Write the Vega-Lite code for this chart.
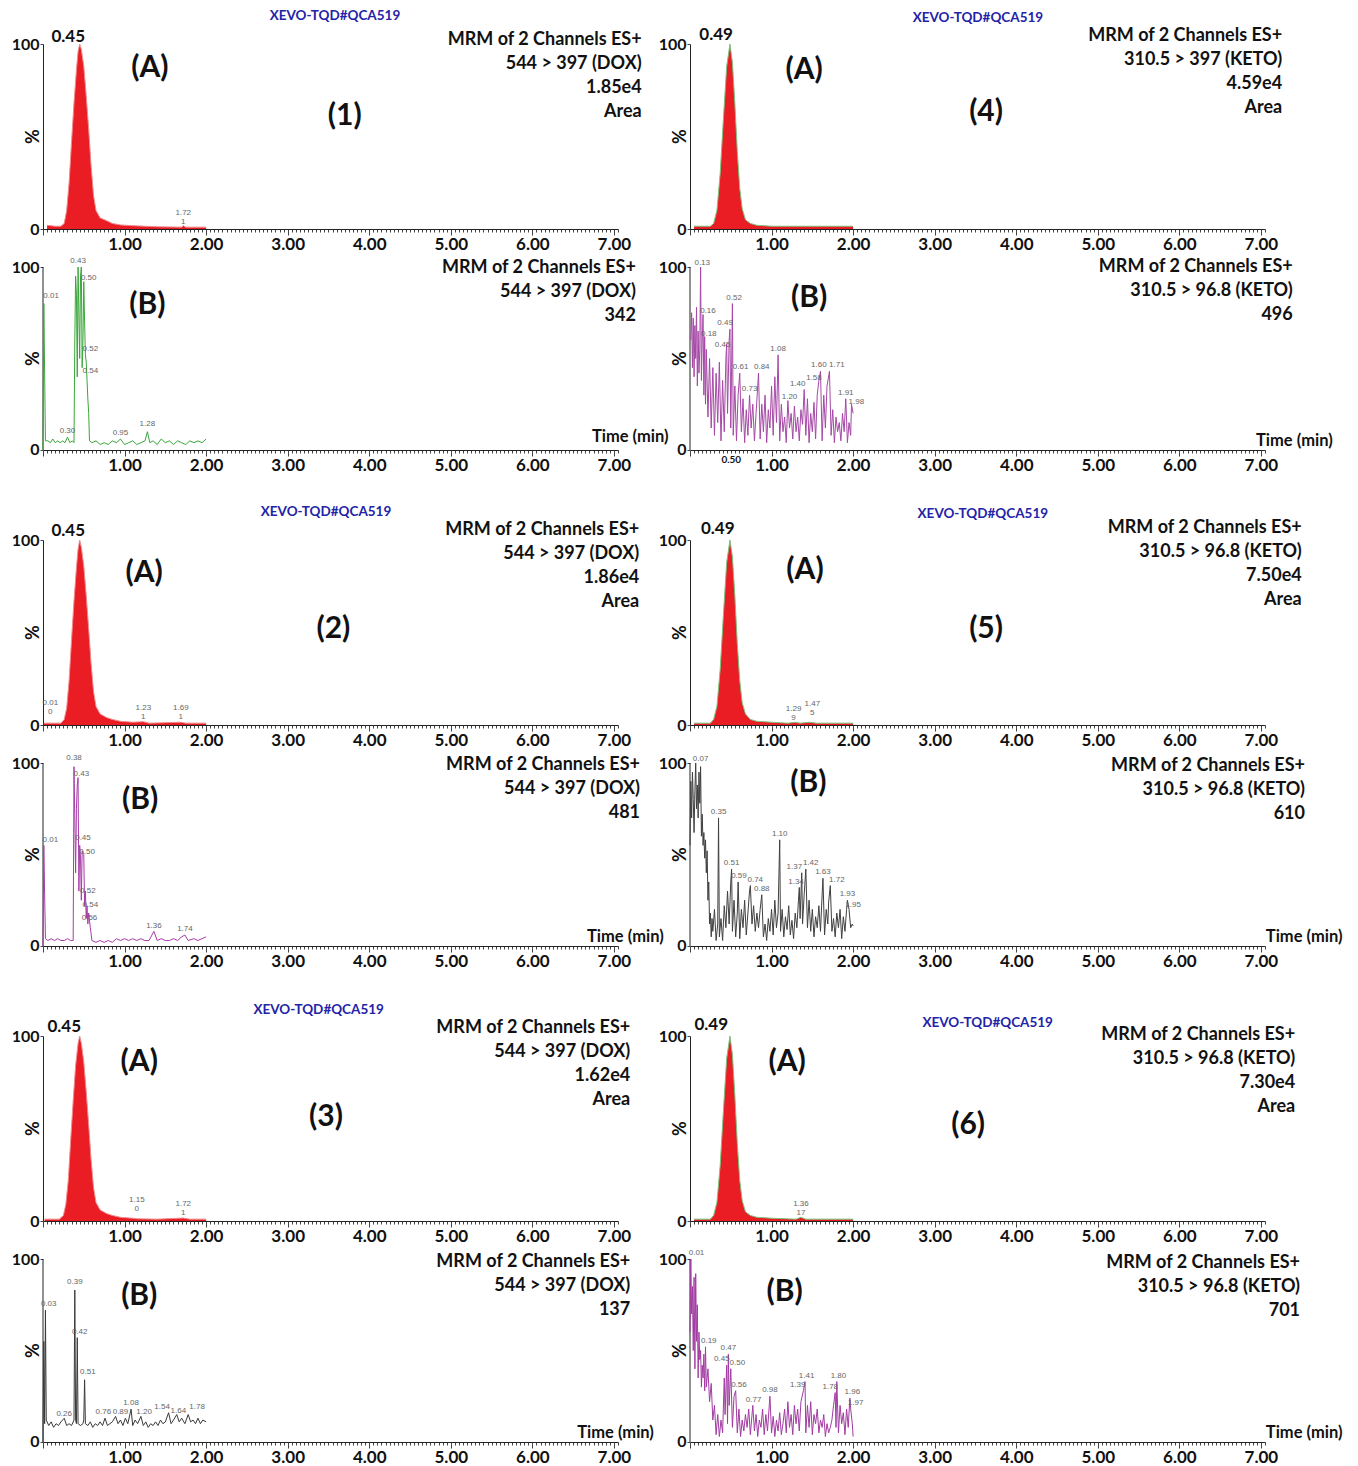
{
"$schema":"https://vega.github.io/schema/vega-lite/v6.json",
"background":"white",
"padding":{"left":11,"top":9,"right":5,"bottom":5},
"bounds":"flush",
"columns":2,
"spacing":{"row":38,"column":72},
"resolve":{"scale":{"x":"independent","y":"independent"},"axis":{"x":"independent","y":"independent"}},
"config":{
 "view":{"stroke":null},
 "font":"Lato",
 "axis":{"grid":false,"domainColor":"#222","tickColor":"#444","labelColor":"#111","labelFont":"Lato","labelFontWeight":"bold","titleFont":"Lato","titleFontWeight":"bold","titleColor":"#111"},
 "axisX":{"labelFontSize":17,"labelPadding":1},
 "axisY":{"labelFontSize":16,"labelPadding":1,"tickSize":3,"titleFontSize":18},
 "style":{
  "info":{"font":"Lato","fontSize":18,"fontWeight":"bold","align":"right","baseline":"top","lineHeight":24,"lineBreak":"\n","color":"#111"},
  "lab":{"font":"Lato","fontSize":30,"fontWeight":"bold","align":"center","baseline":"middle","color":"#111"},
  "xevo":{"font":"Lato","fontSize":13.5,"fontWeight":"bold","align":"center","baseline":"middle","color":"#2323a8"},
  "pk":{"font":"Lato","fontSize":17,"fontWeight":"bold","align":"center","baseline":"middle","color":"#111"},
  "tm":{"font":"Lato","fontSize":16.5,"fontWeight":"bold","align":"left","baseline":"middle","color":"#111"},
  "sm":{"font":"Liberation Sans","fontSize":8,"align":"center","baseline":"bottom","lineHeight":9,"lineBreak":"\n","color":"#666666"}
 }
},
"datasets":{
 "yax":[{"t":0,"v":0,"v2":100}],
 "a1":[{"t":0.05,"v":2},{"t":0.15,"v":1.5},{"t":0.22,"v":1.5},{"t":0.26,"v":3},{"t":0.29,"v":10},{"t":0.32,"v":25},{"t":0.35,"v":47},{"t":0.38,"v":68},{"t":0.41,"v":86},{"t":0.43,"v":96},{"t":0.45,"v":100},{"t":0.47,"v":97},{"t":0.5,"v":88},{"t":0.53,"v":72},{"t":0.56,"v":54},{"t":0.59,"v":34},{"t":0.62,"v":18},{"t":0.65,"v":10},{"t":0.7,"v":6},{"t":0.78,"v":4.5},{"t":0.85,"v":3},{"t":0.95,"v":2.2},{"t":1.1,"v":1.8},{"t":1.4,"v":1.2},{"t":1.7,"v":1},{"t":1.72,"v":1.8},{"t":1.75,"v":1},{"t":2.0,"v":1}],
 "a2":[{"t":0.01,"v":1},{"t":0.05,"v":1},{"t":0.22,"v":1},{"t":0.26,"v":3},{"t":0.29,"v":9},{"t":0.32,"v":24},{"t":0.35,"v":46},{"t":0.38,"v":67},{"t":0.41,"v":85},{"t":0.43,"v":95},{"t":0.45,"v":100},{"t":0.47,"v":96},{"t":0.5,"v":86},{"t":0.53,"v":70},{"t":0.56,"v":52},{"t":0.59,"v":33},{"t":0.62,"v":18},{"t":0.65,"v":10},{"t":0.7,"v":6},{"t":0.78,"v":4},{"t":0.85,"v":3},{"t":0.95,"v":2},{"t":1.1,"v":1.5},{"t":1.23,"v":1.8},{"t":1.3,"v":1},{"t":1.69,"v":1.5},{"t":1.75,"v":1},{"t":2.0,"v":1}],
 "a3":[{"t":0.02,"v":1},{"t":0.2,"v":1},{"t":0.25,"v":3},{"t":0.28,"v":9},{"t":0.31,"v":22},{"t":0.34,"v":44},{"t":0.37,"v":65},{"t":0.4,"v":84},{"t":0.43,"v":96},{"t":0.45,"v":100},{"t":0.47,"v":96},{"t":0.5,"v":86},{"t":0.53,"v":70},{"t":0.56,"v":52},{"t":0.59,"v":33},{"t":0.62,"v":18},{"t":0.65,"v":10},{"t":0.7,"v":6},{"t":0.78,"v":4},{"t":0.85,"v":3},{"t":0.95,"v":2},{"t":1.1,"v":1.5},{"t":1.15,"v":1.2},{"t":1.4,"v":1},{"t":1.72,"v":1.6},{"t":1.8,"v":1},{"t":2.0,"v":1}],
 "a4":[{"t":0.05,"v":1.5},{"t":0.25,"v":1.5},{"t":0.29,"v":3},{"t":0.33,"v":10},{"t":0.37,"v":30},{"t":0.41,"v":60},{"t":0.45,"v":88},{"t":0.49,"v":100},{"t":0.52,"v":90},{"t":0.55,"v":68},{"t":0.58,"v":42},{"t":0.61,"v":22},{"t":0.64,"v":11},{"t":0.68,"v":5},{"t":0.74,"v":3},{"t":0.82,"v":2},{"t":1.0,"v":1.5},{"t":1.5,"v":1.5},{"t":2.0,"v":1.5}],
 "a5":[{"t":0.05,"v":1},{"t":0.25,"v":1},{"t":0.29,"v":3},{"t":0.33,"v":10},{"t":0.37,"v":30},{"t":0.41,"v":60},{"t":0.45,"v":88},{"t":0.49,"v":100},{"t":0.52,"v":91},{"t":0.55,"v":70},{"t":0.58,"v":44},{"t":0.61,"v":24},{"t":0.64,"v":12},{"t":0.68,"v":6},{"t":0.74,"v":3},{"t":0.82,"v":2},{"t":1.0,"v":1.5},{"t":1.2,"v":1},{"t":1.29,"v":1.5},{"t":1.35,"v":1},{"t":1.47,"v":1.5},{"t":1.55,"v":1},{"t":2.0,"v":1}],
 "a6":[{"t":0.05,"v":1},{"t":0.25,"v":1},{"t":0.29,"v":3},{"t":0.33,"v":10},{"t":0.37,"v":30},{"t":0.41,"v":60},{"t":0.45,"v":88},{"t":0.49,"v":100},{"t":0.52,"v":90},{"t":0.55,"v":68},{"t":0.58,"v":42},{"t":0.61,"v":22},{"t":0.64,"v":11},{"t":0.68,"v":5},{"t":0.74,"v":3},{"t":0.82,"v":2},{"t":1.0,"v":1.5},{"t":1.3,"v":1},{"t":1.36,"v":2},{"t":1.42,"v":1},{"t":2.0,"v":1}],
 "b1":[{"t":0.0,"v":0},{"t":0.01,"v":80},{"t":0.02,"v":42},{"t":0.03,"v":5},{"t":0.06,"v":5},{"t":0.09,"v":4},{"t":0.12,"v":6},{"t":0.15,"v":4},{"t":0.18,"v":5},{"t":0.21,"v":4},{"t":0.24,"v":5},{"t":0.27,"v":4},{"t":0.3,"v":7},{"t":0.33,"v":4},{"t":0.36,"v":5},{"t":0.38,"v":4},{"t":0.39,"v":60},{"t":0.4,"v":95},{"t":0.41,"v":85},{"t":0.42,"v":40},{"t":0.43,"v":100},{"t":0.44,"v":75},{"t":0.45,"v":50},{"t":0.46,"v":95},{"t":0.47,"v":100},{"t":0.48,"v":45},{"t":0.49,"v":60},{"t":0.5,"v":92},{"t":0.51,"v":70},{"t":0.52,"v":52},{"t":0.53,"v":48},{"t":0.54,"v":38},{"t":0.55,"v":28},{"t":0.56,"v":20},{"t":0.57,"v":5},{"t":0.6,"v":4},{"t":0.65,"v":5},{"t":0.7,"v":3},{"t":0.75,"v":4},{"t":0.8,"v":3},{"t":0.85,"v":5},{"t":0.9,"v":4},{"t":0.95,"v":6},{"t":1.0,"v":3},{"t":1.05,"v":4},{"t":1.1,"v":5},{"t":1.15,"v":3},{"t":1.2,"v":4},{"t":1.25,"v":5},{"t":1.28,"v":10},{"t":1.31,"v":4},{"t":1.35,"v":5},{"t":1.4,"v":3},{"t":1.45,"v":6},{"t":1.5,"v":4},{"t":1.55,"v":5},{"t":1.6,"v":3},{"t":1.65,"v":5},{"t":1.7,"v":4},{"t":1.75,"v":3},{"t":1.8,"v":5},{"t":1.85,"v":4},{"t":1.9,"v":5},{"t":1.95,"v":4},{"t":2.0,"v":6}],
 "b2":[{"t":0.0,"v":0},{"t":0.01,"v":55},{"t":0.02,"v":28},{"t":0.03,"v":4},{"t":0.06,"v":3},{"t":0.1,"v":4},{"t":0.14,"v":3},{"t":0.18,"v":4},{"t":0.22,"v":3},{"t":0.26,"v":3},{"t":0.3,"v":4},{"t":0.34,"v":3},{"t":0.37,"v":3},{"t":0.38,"v":98},{"t":0.39,"v":70},{"t":0.4,"v":40},{"t":0.41,"v":75},{"t":0.42,"v":88},{"t":0.43,"v":92},{"t":0.44,"v":30},{"t":0.45,"v":55},{"t":0.46,"v":48},{"t":0.47,"v":25},{"t":0.48,"v":52},{"t":0.5,"v":50},{"t":0.51,"v":22},{"t":0.52,"v":30},{"t":0.53,"v":15},{"t":0.54,"v":22},{"t":0.55,"v":12},{"t":0.56,"v":18},{"t":0.58,"v":10},{"t":0.6,"v":3},{"t":0.65,"v":2},{"t":0.7,"v":3},{"t":0.75,"v":2},{"t":0.8,"v":3},{"t":0.85,"v":2},{"t":0.9,"v":4},{"t":0.95,"v":3},{"t":1.0,"v":4},{"t":1.05,"v":3},{"t":1.1,"v":4},{"t":1.15,"v":3},{"t":1.2,"v":4},{"t":1.25,"v":3},{"t":1.3,"v":3},{"t":1.36,"v":8},{"t":1.4,"v":3},{"t":1.45,"v":4},{"t":1.5,"v":3},{"t":1.55,"v":3},{"t":1.6,"v":4},{"t":1.65,"v":3},{"t":1.7,"v":5},{"t":1.74,"v":6},{"t":1.78,"v":3},{"t":1.85,"v":4},{"t":1.9,"v":3},{"t":1.95,"v":4},{"t":2.0,"v":5}],
 "b3":[{"t":0.0,"v":0},{"t":0.01,"v":55},{"t":0.02,"v":10},{"t":0.03,"v":72},{"t":0.04,"v":12},{"t":0.07,"v":9},{"t":0.1,"v":11},{"t":0.13,"v":8},{"t":0.16,"v":10},{"t":0.19,"v":9},{"t":0.22,"v":11},{"t":0.26,"v":13},{"t":0.29,"v":9},{"t":0.32,"v":10},{"t":0.35,"v":9},{"t":0.38,"v":12},{"t":0.39,"v":83},{"t":0.4,"v":12},{"t":0.41,"v":10},{"t":0.42,"v":57},{"t":0.43,"v":10},{"t":0.46,"v":9},{"t":0.49,"v":10},{"t":0.5,"v":12},{"t":0.51,"v":34},{"t":0.52,"v":10},{"t":0.55,"v":9},{"t":0.58,"v":11},{"t":0.61,"v":8},{"t":0.64,"v":10},{"t":0.67,"v":9},{"t":0.7,"v":11},{"t":0.73,"v":9},{"t":0.76,"v":13},{"t":0.79,"v":9},{"t":0.82,"v":10},{"t":0.85,"v":11},{"t":0.89,"v":14},{"t":0.92,"v":10},{"t":0.95,"v":12},{"t":0.98,"v":9},{"t":1.01,"v":13},{"t":1.04,"v":10},{"t":1.08,"v":18},{"t":1.1,"v":9},{"t":1.13,"v":12},{"t":1.16,"v":10},{"t":1.2,"v":14},{"t":1.23,"v":9},{"t":1.26,"v":11},{"t":1.29,"v":8},{"t":1.32,"v":10},{"t":1.35,"v":9},{"t":1.38,"v":11},{"t":1.41,"v":9},{"t":1.44,"v":12},{"t":1.47,"v":10},{"t":1.5,"v":11},{"t":1.54,"v":16},{"t":1.57,"v":10},{"t":1.6,"v":12},{"t":1.64,"v":15},{"t":1.67,"v":11},{"t":1.7,"v":13},{"t":1.74,"v":10},{"t":1.78,"v":15},{"t":1.81,"v":11},{"t":1.84,"v":12},{"t":1.87,"v":10},{"t":1.9,"v":13},{"t":1.93,"v":10},{"t":1.96,"v":12},{"t":2.0,"v":11}],
 "b4":[{"t":0.01,"v":60},{"t":0.02,"v":75},{"t":0.03,"v":45},{"t":0.04,"v":72},{"t":0.05,"v":40},{"t":0.06,"v":68},{"t":0.07,"v":50},{"t":0.08,"v":78},{"t":0.09,"v":35},{"t":0.1,"v":65},{"t":0.11,"v":42},{"t":0.12,"v":55},{"t":0.13,"v":100},{"t":0.14,"v":38},{"t":0.15,"v":60},{"t":0.16,"v":74},{"t":0.17,"v":30},{"t":0.18,"v":62},{"t":0.19,"v":25},{"t":0.2,"v":55},{"t":0.22,"v":18},{"t":0.24,"v":50},{"t":0.26,"v":12},{"t":0.28,"v":45},{"t":0.3,"v":8},{"t":0.32,"v":42},{"t":0.34,"v":15},{"t":0.36,"v":48},{"t":0.38,"v":5},{"t":0.4,"v":38},{"t":0.42,"v":10},{"t":0.44,"v":50},{"t":0.45,"v":58},{"t":0.46,"v":20},{"t":0.48,"v":60},{"t":0.49,"v":66},{"t":0.5,"v":12},{"t":0.51,"v":45},{"t":0.52,"v":80},{"t":0.53,"v":8},{"t":0.55,"v":35},{"t":0.57,"v":5},{"t":0.59,"v":30},{"t":0.61,"v":42},{"t":0.63,"v":10},{"t":0.65,"v":28},{"t":0.67,"v":4},{"t":0.69,"v":22},{"t":0.71,"v":8},{"t":0.73,"v":30},{"t":0.75,"v":12},{"t":0.77,"v":25},{"t":0.79,"v":5},{"t":0.81,"v":20},{"t":0.84,"v":42},{"t":0.86,"v":6},{"t":0.88,"v":25},{"t":0.9,"v":10},{"t":0.92,"v":30},{"t":0.94,"v":4},{"t":0.96,"v":22},{"t":0.98,"v":12},{"t":1.0,"v":35},{"t":1.02,"v":8},{"t":1.04,"v":40},{"t":1.06,"v":15},{"t":1.08,"v":52},{"t":1.1,"v":5},{"t":1.12,"v":25},{"t":1.14,"v":10},{"t":1.16,"v":18},{"t":1.18,"v":4},{"t":1.2,"v":27},{"t":1.22,"v":12},{"t":1.24,"v":20},{"t":1.26,"v":6},{"t":1.28,"v":24},{"t":1.3,"v":10},{"t":1.32,"v":18},{"t":1.34,"v":5},{"t":1.36,"v":22},{"t":1.38,"v":14},{"t":1.4,"v":33},{"t":1.42,"v":8},{"t":1.44,"v":28},{"t":1.46,"v":4},{"t":1.48,"v":20},{"t":1.5,"v":10},{"t":1.52,"v":26},{"t":1.54,"v":6},{"t":1.56,"v":30},{"t":1.58,"v":38},{"t":1.6,"v":43},{"t":1.62,"v":5},{"t":1.64,"v":30},{"t":1.66,"v":12},{"t":1.68,"v":35},{"t":1.71,"v":43},{"t":1.73,"v":8},{"t":1.75,"v":22},{"t":1.77,"v":4},{"t":1.79,"v":18},{"t":1.81,"v":10},{"t":1.83,"v":15},{"t":1.85,"v":5},{"t":1.87,"v":20},{"t":1.89,"v":10},{"t":1.91,"v":28},{"t":1.93,"v":4},{"t":1.95,"v":15},{"t":1.97,"v":8},{"t":1.98,"v":25},{"t":2.0,"v":20}],
 "b5":[{"t":0.0,"v":55},{"t":0.01,"v":90},{"t":0.02,"v":70},{"t":0.03,"v":95},{"t":0.04,"v":80},{"t":0.05,"v":62},{"t":0.06,"v":85},{"t":0.07,"v":100},{"t":0.08,"v":75},{"t":0.09,"v":88},{"t":0.1,"v":70},{"t":0.11,"v":95},{"t":0.12,"v":78},{"t":0.13,"v":98},{"t":0.14,"v":60},{"t":0.15,"v":72},{"t":0.16,"v":55},{"t":0.17,"v":62},{"t":0.18,"v":48},{"t":0.19,"v":58},{"t":0.2,"v":40},{"t":0.21,"v":52},{"t":0.22,"v":25},{"t":0.23,"v":35},{"t":0.24,"v":12},{"t":0.25,"v":18},{"t":0.26,"v":5},{"t":0.27,"v":15},{"t":0.28,"v":8},{"t":0.3,"v":20},{"t":0.32,"v":3},{"t":0.34,"v":12},{"t":0.35,"v":70},{"t":0.36,"v":5},{"t":0.38,"v":15},{"t":0.4,"v":3},{"t":0.42,"v":22},{"t":0.44,"v":10},{"t":0.46,"v":30},{"t":0.48,"v":12},{"t":0.5,"v":35},{"t":0.51,"v":42},{"t":0.52,"v":8},{"t":0.54,"v":25},{"t":0.56,"v":5},{"t":0.58,"v":18},{"t":0.59,"v":35},{"t":0.61,"v":4},{"t":0.63,"v":20},{"t":0.65,"v":10},{"t":0.67,"v":25},{"t":0.69,"v":6},{"t":0.71,"v":18},{"t":0.73,"v":30},{"t":0.74,"v":33},{"t":0.76,"v":12},{"t":0.78,"v":22},{"t":0.8,"v":8},{"t":0.82,"v":18},{"t":0.84,"v":10},{"t":0.86,"v":20},{"t":0.88,"v":28},{"t":0.9,"v":5},{"t":0.92,"v":12},{"t":0.94,"v":3},{"t":0.96,"v":15},{"t":0.98,"v":8},{"t":1.0,"v":20},{"t":1.02,"v":6},{"t":1.04,"v":25},{"t":1.06,"v":10},{"t":1.08,"v":18},{"t":1.1,"v":58},{"t":1.11,"v":8},{"t":1.13,"v":20},{"t":1.15,"v":5},{"t":1.17,"v":16},{"t":1.19,"v":9},{"t":1.21,"v":22},{"t":1.23,"v":6},{"t":1.25,"v":14},{"t":1.27,"v":4},{"t":1.29,"v":18},{"t":1.31,"v":10},{"t":1.33,"v":25},{"t":1.34,"v":32},{"t":1.35,"v":15},{"t":1.37,"v":40},{"t":1.38,"v":12},{"t":1.4,"v":28},{"t":1.42,"v":42},{"t":1.44,"v":10},{"t":1.46,"v":25},{"t":1.48,"v":8},{"t":1.5,"v":20},{"t":1.52,"v":5},{"t":1.54,"v":16},{"t":1.56,"v":10},{"t":1.58,"v":22},{"t":1.6,"v":8},{"t":1.62,"v":28},{"t":1.63,"v":37},{"t":1.65,"v":6},{"t":1.67,"v":20},{"t":1.69,"v":12},{"t":1.7,"v":24},{"t":1.72,"v":33},{"t":1.74,"v":8},{"t":1.76,"v":15},{"t":1.78,"v":5},{"t":1.8,"v":18},{"t":1.82,"v":10},{"t":1.84,"v":20},{"t":1.86,"v":4},{"t":1.88,"v":16},{"t":1.9,"v":8},{"t":1.92,"v":20},{"t":1.93,"v":25},{"t":1.95,"v":20},{"t":1.97,"v":10},{"t":1.99,"v":12},{"t":2.0,"v":11}],
 "b6":[{"t":0.0,"v":60},{"t":0.01,"v":100},{"t":0.02,"v":70},{"t":0.03,"v":85},{"t":0.04,"v":50},{"t":0.05,"v":90},{"t":0.06,"v":40},{"t":0.07,"v":92},{"t":0.08,"v":55},{"t":0.09,"v":75},{"t":0.1,"v":35},{"t":0.11,"v":60},{"t":0.12,"v":45},{"t":0.13,"v":50},{"t":0.14,"v":30},{"t":0.15,"v":42},{"t":0.16,"v":35},{"t":0.17,"v":48},{"t":0.18,"v":28},{"t":0.19,"v":52},{"t":0.2,"v":30},{"t":0.22,"v":40},{"t":0.24,"v":22},{"t":0.26,"v":32},{"t":0.28,"v":12},{"t":0.3,"v":20},{"t":0.32,"v":4},{"t":0.34,"v":15},{"t":0.36,"v":3},{"t":0.38,"v":12},{"t":0.4,"v":5},{"t":0.42,"v":35},{"t":0.43,"v":15},{"t":0.45,"v":42},{"t":0.46,"v":10},{"t":0.47,"v":48},{"t":0.48,"v":20},{"t":0.5,"v":40},{"t":0.52,"v":8},{"t":0.54,"v":25},{"t":0.56,"v":28},{"t":0.58,"v":5},{"t":0.6,"v":18},{"t":0.62,"v":3},{"t":0.64,"v":12},{"t":0.66,"v":6},{"t":0.68,"v":15},{"t":0.7,"v":8},{"t":0.72,"v":18},{"t":0.74,"v":4},{"t":0.77,"v":20},{"t":0.79,"v":6},{"t":0.81,"v":15},{"t":0.83,"v":3},{"t":0.85,"v":12},{"t":0.87,"v":8},{"t":0.89,"v":18},{"t":0.91,"v":4},{"t":0.93,"v":15},{"t":0.95,"v":6},{"t":0.98,"v":25},{"t":1.0,"v":5},{"t":1.02,"v":14},{"t":1.04,"v":3},{"t":1.06,"v":12},{"t":1.08,"v":6},{"t":1.1,"v":16},{"t":1.12,"v":4},{"t":1.14,"v":10},{"t":1.16,"v":18},{"t":1.18,"v":5},{"t":1.2,"v":22},{"t":1.22,"v":8},{"t":1.24,"v":15},{"t":1.26,"v":4},{"t":1.28,"v":20},{"t":1.3,"v":10},{"t":1.32,"v":18},{"t":1.34,"v":6},{"t":1.36,"v":22},{"t":1.39,"v":28},{"t":1.41,"v":33},{"t":1.42,"v":5},{"t":1.44,"v":20},{"t":1.46,"v":8},{"t":1.48,"v":22},{"t":1.5,"v":4},{"t":1.52,"v":15},{"t":1.54,"v":10},{"t":1.56,"v":18},{"t":1.58,"v":5},{"t":1.6,"v":12},{"t":1.62,"v":8},{"t":1.64,"v":15},{"t":1.66,"v":3},{"t":1.68,"v":10},{"t":1.7,"v":5},{"t":1.72,"v":8},{"t":1.74,"v":12},{"t":1.76,"v":20},{"t":1.78,"v":27},{"t":1.79,"v":8},{"t":1.8,"v":33},{"t":1.82,"v":5},{"t":1.84,"v":20},{"t":1.86,"v":10},{"t":1.88,"v":16},{"t":1.9,"v":4},{"t":1.92,"v":18},{"t":1.94,"v":8},{"t":1.96,"v":24},{"t":1.97,"v":18},{"t":1.99,"v":10},{"t":2.0,"v":3}],
 "notes":[
  {"p":"1A","k":"info","t":7.34,"v":107,"s":"MRM of 2 Channels ES+\n544 > 397 (DOX)\n1.85e4\nArea"},
  {"p":"1A","k":"lab","t":1.31,"v":87,"s":"(A)"},
  {"p":"1A","k":"lab","t":3.7,"v":61,"s":"(1)"},
  {"p":"1A","k":"xevo","t":3.58,"v":115,"s":"XEVO-TQD#QCA519"},
  {"p":"1A","k":"pk","t":0.31,"v":104,"s":"0.45"},
  {"p":"1A","k":"sm","t":1.72,"v":6.5,"s":"1.72\n1"},
  {"p":"1B","k":"info","t":7.27,"v":104.5,"s":"MRM of 2 Channels ES+\n544 > 397 (DOX)\n342"},
  {"p":"1B","k":"lab","t":1.28,"v":79,"s":"(B)"},
  {"p":"1B","k":"tm","t":6.73,"v":7,"s":"Time (min)"},
  {"p":"1B","k":"sm","t":0.1,"v":82,"s":"0.01"},
  {"p":"1B","k":"sm","t":0.43,"v":101,"s":"0.43"},
  {"p":"1B","k":"sm","t":0.56,"v":92,"s":"0.50"},
  {"p":"1B","k":"sm","t":0.58,"v":53,"s":"0.52"},
  {"p":"1B","k":"sm","t":0.58,"v":41,"s":"0.54"},
  {"p":"1B","k":"sm","t":0.3,"v":8,"s":"0.30"},
  {"p":"1B","k":"sm","t":0.95,"v":7,"s":"0.95"},
  {"p":"1B","k":"sm","t":1.28,"v":12,"s":"1.28"},
  {"p":"2A","k":"info","t":7.31,"v":110.5,"s":"MRM of 2 Channels ES+\n544 > 397 (DOX)\n1.86e4\nArea"},
  {"p":"2A","k":"lab","t":1.24,"v":82,"s":"(A)"},
  {"p":"2A","k":"lab","t":3.56,"v":52,"s":"(2)"},
  {"p":"2A","k":"xevo","t":3.47,"v":115,"s":"XEVO-TQD#QCA519"},
  {"p":"2A","k":"pk","t":0.31,"v":105,"s":"0.45"},
  {"p":"2A","k":"sm","t":0.09,"v":10,"s":"0.01\n0"},
  {"p":"2A","k":"sm","t":1.23,"v":7,"s":"1.23\n1"},
  {"p":"2A","k":"sm","t":1.69,"v":7,"s":"1.69\n1"},
  {"p":"2B","k":"info","t":7.32,"v":104,"s":"MRM of 2 Channels ES+\n544 > 397 (DOX)\n481"},
  {"p":"2B","k":"lab","t":1.19,"v":80,"s":"(B)"},
  {"p":"2B","k":"tm","t":6.67,"v":5,"s":"Time (min)"},
  {"p":"2B","k":"sm","t":0.09,"v":56,"s":"0.01"},
  {"p":"2B","k":"sm","t":0.38,"v":100.5,"s":"0.38"},
  {"p":"2B","k":"sm","t":0.47,"v":92,"s":"0.43"},
  {"p":"2B","k":"sm","t":0.49,"v":57,"s":"0.45"},
  {"p":"2B","k":"sm","t":0.54,"v":49,"s":"0.50"},
  {"p":"2B","k":"sm","t":0.55,"v":28,"s":"0.52"},
  {"p":"2B","k":"sm","t":0.58,"v":20,"s":"0.54"},
  {"p":"2B","k":"sm","t":0.57,"v":13,"s":"0.56"},
  {"p":"2B","k":"sm","t":1.36,"v":9,"s":"1.36"},
  {"p":"2B","k":"sm","t":1.74,"v":7,"s":"1.74"},
  {"p":"3A","k":"info","t":7.2,"v":109,"s":"MRM of 2 Channels ES+\n544 > 397 (DOX)\n1.62e4\nArea"},
  {"p":"3A","k":"lab","t":1.18,"v":86,"s":"(A)"},
  {"p":"3A","k":"lab","t":3.47,"v":56,"s":"(3)"},
  {"p":"3A","k":"xevo","t":3.38,"v":114,"s":"XEVO-TQD#QCA519"},
  {"p":"3A","k":"pk","t":0.26,"v":105,"s":"0.45"},
  {"p":"3A","k":"sm","t":1.15,"v":9,"s":"1.15\n0"},
  {"p":"3A","k":"sm","t":1.72,"v":7,"s":"1.72\n1"},
  {"p":"3B","k":"info","t":7.2,"v":103.5,"s":"MRM of 2 Channels ES+\n544 > 397 (DOX)\n137"},
  {"p":"3B","k":"lab","t":1.18,"v":80,"s":"(B)"},
  {"p":"3B","k":"tm","t":6.55,"v":5,"s":"Time (min)"},
  {"p":"3B","k":"sm","t":0.07,"v":73,"s":"0.03"},
  {"p":"3B","k":"sm","t":0.39,"v":85,"s":"0.39"},
  {"p":"3B","k":"sm","t":0.45,"v":58,"s":"0.42"},
  {"p":"3B","k":"sm","t":0.55,"v":36,"s":"0.51"},
  {"p":"3B","k":"sm","t":0.26,"v":13,"s":"0.26"},
  {"p":"3B","k":"sm","t":0.74,"v":14,"s":"0.76"},
  {"p":"3B","k":"sm","t":0.95,"v":14,"s":"0.89"},
  {"p":"3B","k":"sm","t":1.08,"v":19,"s":"1.08"},
  {"p":"3B","k":"sm","t":1.24,"v":14,"s":"1.20"},
  {"p":"3B","k":"sm","t":1.46,"v":17,"s":"1.54"},
  {"p":"3B","k":"sm","t":1.66,"v":15,"s":"1.64"},
  {"p":"3B","k":"sm","t":1.89,"v":17,"s":"1.78"},
  {"p":"4A","k":"info","t":7.26,"v":109,"s":"MRM of 2 Channels ES+\n310.5 > 397 (KETO)\n4.59e4\nArea"},
  {"p":"4A","k":"lab","t":1.4,"v":86,"s":"(A)"},
  {"p":"4A","k":"lab","t":3.63,"v":63,"s":"(4)"},
  {"p":"4A","k":"xevo","t":3.53,"v":114,"s":"XEVO-TQD#QCA519"},
  {"p":"4A","k":"pk","t":0.32,"v":105,"s":"0.49"},
  {"p":"4B","k":"info","t":7.39,"v":105,"s":"MRM of 2 Channels ES+\n310.5 > 96.8 (KETO)\n496"},
  {"p":"4B","k":"lab","t":1.46,"v":83,"s":"(B)"},
  {"p":"4B","k":"tm","t":6.94,"v":5,"s":"Time (min)"},
  {"p":"4B","k":"sm","t":0.15,"v":100,"s":"0.13"},
  {"p":"4B","k":"sm","t":0.22,"v":74,"s":"0.16"},
  {"p":"4B","k":"sm","t":0.23,"v":61,"s":"0.18"},
  {"p":"4B","k":"sm","t":0.43,"v":67,"s":"0.49"},
  {"p":"4B","k":"sm","t":0.4,"v":55,"s":"0.45"},
  {"p":"4B","k":"sm","t":0.54,"v":81,"s":"0.52"},
  {"p":"4B","k":"sm","t":0.62,"v":43,"s":"0.61"},
  {"p":"4B","k":"sm","t":0.73,"v":31,"s":"0.73"},
  {"p":"4B","k":"sm","t":0.88,"v":43,"s":"0.84"},
  {"p":"4B","k":"sm","t":1.08,"v":53,"s":"1.08"},
  {"p":"4B","k":"sm","t":1.22,"v":27,"s":"1.20"},
  {"p":"4B","k":"sm","t":1.32,"v":34,"s":"1.40"},
  {"p":"4B","k":"sm","t":1.52,"v":37,"s":"1.58"},
  {"p":"4B","k":"sm","t":1.58,"v":44,"s":"1.60"},
  {"p":"4B","k":"sm","t":1.8,"v":44,"s":"1.71"},
  {"p":"4B","k":"sm","t":1.91,"v":29,"s":"1.91"},
  {"p":"4B","k":"sm","t":2.04,"v":24,"s":"1.98"},
  {"p":"5A","k":"info","t":7.5,"v":111.5,"s":"MRM of 2 Channels ES+\n310.5 > 96.8 (KETO)\n7.50e4\nArea"},
  {"p":"5A","k":"lab","t":1.41,"v":84,"s":"(A)"},
  {"p":"5A","k":"lab","t":3.63,"v":52,"s":"(5)"},
  {"p":"5A","k":"xevo","t":3.59,"v":114,"s":"XEVO-TQD#QCA519"},
  {"p":"5A","k":"pk","t":0.34,"v":106,"s":"0.49"},
  {"p":"5A","k":"sm","t":1.27,"v":6.5,"s":"1.29\n9"},
  {"p":"5A","k":"sm","t":1.5,"v":9,"s":"1.47\n5"},
  {"p":"5B","k":"info","t":7.54,"v":103.5,"s":"MRM of 2 Channels ES+\n310.5 > 96.8 (KETO)\n610"},
  {"p":"5B","k":"lab","t":1.45,"v":89,"s":"(B)"},
  {"p":"5B","k":"tm","t":7.06,"v":5,"s":"Time (min)"},
  {"p":"5B","k":"sm","t":0.13,"v":100,"s":"0.07"},
  {"p":"5B","k":"sm","t":0.35,"v":71,"s":"0.35"},
  {"p":"5B","k":"sm","t":0.51,"v":43,"s":"0.51"},
  {"p":"5B","k":"sm","t":0.6,"v":36,"s":"0.59"},
  {"p":"5B","k":"sm","t":0.8,"v":34,"s":"0.74"},
  {"p":"5B","k":"sm","t":0.88,"v":29,"s":"0.88"},
  {"p":"5B","k":"sm","t":1.1,"v":59,"s":"1.10"},
  {"p":"5B","k":"sm","t":1.28,"v":41,"s":"1.37"},
  {"p":"5B","k":"sm","t":1.3,"v":33,"s":"1.34"},
  {"p":"5B","k":"sm","t":1.48,"v":43,"s":"1.42"},
  {"p":"5B","k":"sm","t":1.63,"v":38,"s":"1.63"},
  {"p":"5B","k":"sm","t":1.8,"v":34,"s":"1.72"},
  {"p":"5B","k":"sm","t":1.93,"v":26,"s":"1.93"},
  {"p":"5B","k":"sm","t":2.0,"v":20,"s":"1.95"},
  {"p":"6A","k":"info","t":7.42,"v":105.5,"s":"MRM of 2 Channels ES+\n310.5 > 96.8 (KETO)\n7.30e4\nArea"},
  {"p":"6A","k":"lab","t":1.19,"v":86,"s":"(A)"},
  {"p":"6A","k":"lab","t":3.41,"v":52,"s":"(6)"},
  {"p":"6A","k":"xevo","t":3.65,"v":107,"s":"XEVO-TQD#QCA519"},
  {"p":"6A","k":"pk","t":0.26,"v":106,"s":"0.49"},
  {"p":"6A","k":"sm","t":1.36,"v":7,"s":"1.36\n17"},
  {"p":"6B","k":"info","t":7.48,"v":103,"s":"MRM of 2 Channels ES+\n310.5 > 96.8 (KETO)\n701"},
  {"p":"6B","k":"lab","t":1.16,"v":82,"s":"(B)"},
  {"p":"6B","k":"tm","t":7.06,"v":5,"s":"Time (min)"},
  {"p":"6B","k":"sm","t":0.08,"v":101,"s":"0.01"},
  {"p":"6B","k":"sm","t":0.23,"v":53,"s":"0.19"},
  {"p":"6B","k":"sm","t":0.47,"v":49,"s":"0.47"},
  {"p":"6B","k":"sm","t":0.39,"v":43,"s":"0.45"},
  {"p":"6B","k":"sm","t":0.58,"v":41,"s":"0.50"},
  {"p":"6B","k":"sm","t":0.6,"v":29,"s":"0.56"},
  {"p":"6B","k":"sm","t":0.78,"v":21,"s":"0.77"},
  {"p":"6B","k":"sm","t":0.98,"v":26,"s":"0.98"},
  {"p":"6B","k":"sm","t":1.32,"v":29,"s":"1.39"},
  {"p":"6B","k":"sm","t":1.43,"v":34,"s":"1.41"},
  {"p":"6B","k":"sm","t":1.72,"v":28,"s":"1.78"},
  {"p":"6B","k":"sm","t":1.82,"v":34,"s":"1.80"},
  {"p":"6B","k":"sm","t":1.99,"v":25,"s":"1.96"},
  {"p":"6B","k":"sm","t":2.03,"v":19,"s":"1.97"}
 ]
},
"concat":[
 {"width":575,"height":185,
  "encoding":{"x":{"field":"t","type":"quantitative","scale":{"domain":[0,7.05],"nice":false,"zero":false},"title":null,"axis":{"tickCount":141,"labelOverlap":false,"labelFlush":false,"labelExpr":"abs(datum.value-round(datum.value))<0.001&&datum.value>0.5?format(datum.value,'.2f'):''","tickSize":{"condition":{"test":"abs(datum.value-round(datum.value))<0.001","value":6},"value":3}}},
   "y":{"field":"v","type":"quantitative","scale":{"domain":[0,100],"nice":false,"zero":false},"axis":{"values":[0,100],"title":"%","titleAngle":270,"titleX":-1,"titleY":92,"titleBaseline":"bottom","titleAlign":"center"}}},
  "layer":[
   {"data":{"name":"a1"},"mark":{"type":"area","color":"#ea1c24","opacity":1,"line":{"color":"#f08c8c","strokeWidth":1}}},
   {"data":{"name":"notes"},"transform":[{"filter":"datum.p=='1A'&&datum.k=='info'"}],"mark":{"type":"text","style":"info"},"encoding":{"text":{"field":"s"}}},
   {"data":{"name":"notes"},"transform":[{"filter":"datum.p=='1A'&&datum.k=='lab'"}],"mark":{"type":"text","style":"lab"},"encoding":{"text":{"field":"s"}}},
   {"data":{"name":"notes"},"transform":[{"filter":"datum.p=='1A'&&datum.k=='xevo'"}],"mark":{"type":"text","style":"xevo"},"encoding":{"text":{"field":"s"}}},
   {"data":{"name":"notes"},"transform":[{"filter":"datum.p=='1A'&&datum.k=='pk'"}],"mark":{"type":"text","style":"pk"},"encoding":{"text":{"field":"s"}}},
   {"data":{"name":"notes"},"transform":[{"filter":"datum.p=='1A'&&datum.k=='sm'"}],"mark":{"type":"text","style":"sm"},"encoding":{"text":{"field":"s"}}}
  ]},
 {"width":575,"height":185,
  "encoding":{"x":{"field":"t","type":"quantitative","scale":{"domain":[0,7.05],"nice":false,"zero":false},"title":null,"axis":{"tickCount":141,"labelOverlap":false,"labelFlush":false,"labelExpr":"abs(datum.value-round(datum.value))<0.001&&datum.value>0.5?format(datum.value,'.2f'):''","tickSize":{"condition":{"test":"abs(datum.value-round(datum.value))<0.001","value":6},"value":3}}},
   "y":{"field":"v","type":"quantitative","scale":{"domain":[0,100],"nice":false,"zero":false},"axis":{"values":[0,100],"title":"%","titleAngle":270,"titleX":-1,"titleY":92,"titleBaseline":"bottom","titleAlign":"center"}}},
  "layer":[
   {"data":{"name":"a4"},"mark":{"type":"area","color":"#ea1c24","opacity":1,"line":{"color":"#7fc27f","strokeWidth":1}}},
   {"data":{"name":"notes"},"transform":[{"filter":"datum.p=='4A'&&datum.k=='info'"}],"mark":{"type":"text","style":"info"},"encoding":{"text":{"field":"s"}}},
   {"data":{"name":"notes"},"transform":[{"filter":"datum.p=='4A'&&datum.k=='lab'"}],"mark":{"type":"text","style":"lab"},"encoding":{"text":{"field":"s"}}},
   {"data":{"name":"notes"},"transform":[{"filter":"datum.p=='4A'&&datum.k=='xevo'"}],"mark":{"type":"text","style":"xevo"},"encoding":{"text":{"field":"s"}}},
   {"data":{"name":"notes"},"transform":[{"filter":"datum.p=='4A'&&datum.k=='pk'"}],"mark":{"type":"text","style":"pk"},"encoding":{"text":{"field":"s"}}}
  ]},
 {"width":575,"height":235,
  "encoding":{"x":{"field":"t","type":"quantitative","scale":{"domain":[0,7.05],"nice":false,"zero":false},"title":null,"axis":{"offset":-52,"tickCount":141,"labelOverlap":false,"labelFlush":false,"labelExpr":"abs(datum.value-round(datum.value))<0.001&&datum.value>0.5?format(datum.value,'.2f'):''","tickSize":{"condition":{"test":"abs(datum.value-round(datum.value))<0.001","value":6},"value":3}}},
   "y":{"field":"v","type":"quantitative","scale":{"domain":[-28.42,100],"nice":false,"zero":false},"axis":{"values":[0,100],"domain":false,"title":"%","titleAngle":270,"titleX":-1,"titleY":91,"titleBaseline":"bottom","titleAlign":"center"}}},
  "layer":[
   {"data":{"name":"yax"},"mark":{"type":"rule","color":"#222"},"encoding":{"y2":{"field":"v2"}}},
   {"data":{"name":"b1"},"mark":{"type":"line","color":"#3aa63a","strokeWidth":1}},
   {"data":{"name":"notes"},"transform":[{"filter":"datum.p=='1B'&&datum.k=='info'"}],"mark":{"type":"text","style":"info"},"encoding":{"text":{"field":"s"}}},
   {"data":{"name":"notes"},"transform":[{"filter":"datum.p=='1B'&&datum.k=='lab'"}],"mark":{"type":"text","style":"lab"},"encoding":{"text":{"field":"s"}}},
   {"data":{"name":"notes"},"transform":[{"filter":"datum.p=='1B'&&datum.k=='tm'"}],"mark":{"type":"text","style":"tm"},"encoding":{"text":{"field":"s"}}},
   {"data":{"name":"notes"},"transform":[{"filter":"datum.p=='1B'&&datum.k=='sm'"}],"mark":{"type":"text","style":"sm"},"encoding":{"text":{"field":"s"}}}
  ]},
 {"width":575,"height":235,
  "encoding":{"x":{"field":"t","type":"quantitative","scale":{"domain":[0,7.05],"nice":false,"zero":false},"title":null,"axis":{"offset":-52,"tickCount":141,"labelOverlap":false,"labelFlush":false,"labelExpr":"abs(datum.value-0.5)<0.001?'0.50':(abs(datum.value-round(datum.value))<0.001&&datum.value>0.5?format(datum.value,'.2f'):'')","labelFontSize":{"condition":{"test":"abs(datum.value-0.5)<0.001","value":10},"value":17},"tickSize":{"condition":{"test":"abs(datum.value-round(datum.value))<0.001","value":6},"value":3}}},
   "y":{"field":"v","type":"quantitative","scale":{"domain":[-28.42,100],"nice":false,"zero":false},"axis":{"values":[0,100],"domain":false,"title":"%","titleAngle":270,"titleX":-1,"titleY":91,"titleBaseline":"bottom","titleAlign":"center"}}},
  "layer":[
   {"data":{"name":"yax"},"mark":{"type":"rule","color":"#222"},"encoding":{"y2":{"field":"v2"}}},
   {"data":{"name":"b4"},"mark":{"type":"line","color":"#a648a6","strokeWidth":1}},
   {"data":{"name":"notes"},"transform":[{"filter":"datum.p=='4B'&&datum.k=='info'"}],"mark":{"type":"text","style":"info"},"encoding":{"text":{"field":"s"}}},
   {"data":{"name":"notes"},"transform":[{"filter":"datum.p=='4B'&&datum.k=='lab'"}],"mark":{"type":"text","style":"lab"},"encoding":{"text":{"field":"s"}}},
   {"data":{"name":"notes"},"transform":[{"filter":"datum.p=='4B'&&datum.k=='tm'"}],"mark":{"type":"text","style":"tm"},"encoding":{"text":{"field":"s"}}},
   {"data":{"name":"notes"},"transform":[{"filter":"datum.p=='4B'&&datum.k=='sm'"}],"mark":{"type":"text","style":"sm"},"encoding":{"text":{"field":"s"}}}
  ]},
 {"width":575,"height":185,
  "encoding":{"x":{"field":"t","type":"quantitative","scale":{"domain":[0,7.05],"nice":false,"zero":false},"title":null,"axis":{"tickCount":141,"labelOverlap":false,"labelFlush":false,"labelExpr":"abs(datum.value-round(datum.value))<0.001&&datum.value>0.5?format(datum.value,'.2f'):''","tickSize":{"condition":{"test":"abs(datum.value-round(datum.value))<0.001","value":6},"value":3}}},
   "y":{"field":"v","type":"quantitative","scale":{"domain":[0,100],"nice":false,"zero":false},"axis":{"values":[0,100],"title":"%","titleAngle":270,"titleX":-1,"titleY":92,"titleBaseline":"bottom","titleAlign":"center"}}},
  "layer":[
   {"data":{"name":"a2"},"mark":{"type":"area","color":"#ea1c24","opacity":1,"line":{"color":"#f08c8c","strokeWidth":1}}},
   {"data":{"name":"notes"},"transform":[{"filter":"datum.p=='2A'&&datum.k=='info'"}],"mark":{"type":"text","style":"info"},"encoding":{"text":{"field":"s"}}},
   {"data":{"name":"notes"},"transform":[{"filter":"datum.p=='2A'&&datum.k=='lab'"}],"mark":{"type":"text","style":"lab"},"encoding":{"text":{"field":"s"}}},
   {"data":{"name":"notes"},"transform":[{"filter":"datum.p=='2A'&&datum.k=='xevo'"}],"mark":{"type":"text","style":"xevo"},"encoding":{"text":{"field":"s"}}},
   {"data":{"name":"notes"},"transform":[{"filter":"datum.p=='2A'&&datum.k=='pk'"}],"mark":{"type":"text","style":"pk"},"encoding":{"text":{"field":"s"}}},
   {"data":{"name":"notes"},"transform":[{"filter":"datum.p=='2A'&&datum.k=='sm'"}],"mark":{"type":"text","style":"sm"},"encoding":{"text":{"field":"s"}}}
  ]},
 {"width":575,"height":185,
  "encoding":{"x":{"field":"t","type":"quantitative","scale":{"domain":[0,7.05],"nice":false,"zero":false},"title":null,"axis":{"tickCount":141,"labelOverlap":false,"labelFlush":false,"labelExpr":"abs(datum.value-round(datum.value))<0.001&&datum.value>0.5?format(datum.value,'.2f'):''","tickSize":{"condition":{"test":"abs(datum.value-round(datum.value))<0.001","value":6},"value":3}}},
   "y":{"field":"v","type":"quantitative","scale":{"domain":[0,100],"nice":false,"zero":false},"axis":{"values":[0,100],"title":"%","titleAngle":270,"titleX":-1,"titleY":92,"titleBaseline":"bottom","titleAlign":"center"}}},
  "layer":[
   {"data":{"name":"a5"},"mark":{"type":"area","color":"#ea1c24","opacity":1,"line":{"color":"#7fc27f","strokeWidth":1}}},
   {"data":{"name":"notes"},"transform":[{"filter":"datum.p=='5A'&&datum.k=='info'"}],"mark":{"type":"text","style":"info"},"encoding":{"text":{"field":"s"}}},
   {"data":{"name":"notes"},"transform":[{"filter":"datum.p=='5A'&&datum.k=='lab'"}],"mark":{"type":"text","style":"lab"},"encoding":{"text":{"field":"s"}}},
   {"data":{"name":"notes"},"transform":[{"filter":"datum.p=='5A'&&datum.k=='xevo'"}],"mark":{"type":"text","style":"xevo"},"encoding":{"text":{"field":"s"}}},
   {"data":{"name":"notes"},"transform":[{"filter":"datum.p=='5A'&&datum.k=='pk'"}],"mark":{"type":"text","style":"pk"},"encoding":{"text":{"field":"s"}}},
   {"data":{"name":"notes"},"transform":[{"filter":"datum.p=='5A'&&datum.k=='sm'"}],"mark":{"type":"text","style":"sm"},"encoding":{"text":{"field":"s"}}}
  ]},
 {"width":575,"height":235,
  "encoding":{"x":{"field":"t","type":"quantitative","scale":{"domain":[0,7.05],"nice":false,"zero":false},"title":null,"axis":{"offset":-52,"tickCount":141,"labelOverlap":false,"labelFlush":false,"labelExpr":"abs(datum.value-round(datum.value))<0.001&&datum.value>0.5?format(datum.value,'.2f'):''","tickSize":{"condition":{"test":"abs(datum.value-round(datum.value))<0.001","value":6},"value":3}}},
   "y":{"field":"v","type":"quantitative","scale":{"domain":[-28.42,100],"nice":false,"zero":false},"axis":{"values":[0,100],"domain":false,"title":"%","titleAngle":270,"titleX":-1,"titleY":91,"titleBaseline":"bottom","titleAlign":"center"}}},
  "layer":[
   {"data":{"name":"yax"},"mark":{"type":"rule","color":"#222"},"encoding":{"y2":{"field":"v2"}}},
   {"data":{"name":"b2"},"mark":{"type":"line","color":"#a83ca8","strokeWidth":1}},
   {"data":{"name":"notes"},"transform":[{"filter":"datum.p=='2B'&&datum.k=='info'"}],"mark":{"type":"text","style":"info"},"encoding":{"text":{"field":"s"}}},
   {"data":{"name":"notes"},"transform":[{"filter":"datum.p=='2B'&&datum.k=='lab'"}],"mark":{"type":"text","style":"lab"},"encoding":{"text":{"field":"s"}}},
   {"data":{"name":"notes"},"transform":[{"filter":"datum.p=='2B'&&datum.k=='tm'"}],"mark":{"type":"text","style":"tm"},"encoding":{"text":{"field":"s"}}},
   {"data":{"name":"notes"},"transform":[{"filter":"datum.p=='2B'&&datum.k=='sm'"}],"mark":{"type":"text","style":"sm"},"encoding":{"text":{"field":"s"}}}
  ]},
 {"width":575,"height":235,
  "encoding":{"x":{"field":"t","type":"quantitative","scale":{"domain":[0,7.05],"nice":false,"zero":false},"title":null,"axis":{"offset":-52,"tickCount":141,"labelOverlap":false,"labelFlush":false,"labelExpr":"abs(datum.value-round(datum.value))<0.001&&datum.value>0.5?format(datum.value,'.2f'):''","tickSize":{"condition":{"test":"abs(datum.value-round(datum.value))<0.001","value":6},"value":3}}},
   "y":{"field":"v","type":"quantitative","scale":{"domain":[-28.42,100],"nice":false,"zero":false},"axis":{"values":[0,100],"domain":false,"title":"%","titleAngle":270,"titleX":-1,"titleY":91,"titleBaseline":"bottom","titleAlign":"center"}}},
  "layer":[
   {"data":{"name":"yax"},"mark":{"type":"rule","color":"#222"},"encoding":{"y2":{"field":"v2"}}},
   {"data":{"name":"b5"},"mark":{"type":"line","color":"#404040","strokeWidth":1}},
   {"data":{"name":"notes"},"transform":[{"filter":"datum.p=='5B'&&datum.k=='info'"}],"mark":{"type":"text","style":"info"},"encoding":{"text":{"field":"s"}}},
   {"data":{"name":"notes"},"transform":[{"filter":"datum.p=='5B'&&datum.k=='lab'"}],"mark":{"type":"text","style":"lab"},"encoding":{"text":{"field":"s"}}},
   {"data":{"name":"notes"},"transform":[{"filter":"datum.p=='5B'&&datum.k=='tm'"}],"mark":{"type":"text","style":"tm"},"encoding":{"text":{"field":"s"}}},
   {"data":{"name":"notes"},"transform":[{"filter":"datum.p=='5B'&&datum.k=='sm'"}],"mark":{"type":"text","style":"sm"},"encoding":{"text":{"field":"s"}}}
  ]},
 {"width":575,"height":185,
  "encoding":{"x":{"field":"t","type":"quantitative","scale":{"domain":[0,7.05],"nice":false,"zero":false},"title":null,"axis":{"tickCount":141,"labelOverlap":false,"labelFlush":false,"labelExpr":"abs(datum.value-round(datum.value))<0.001&&datum.value>0.5?format(datum.value,'.2f'):''","tickSize":{"condition":{"test":"abs(datum.value-round(datum.value))<0.001","value":6},"value":3}}},
   "y":{"field":"v","type":"quantitative","scale":{"domain":[0,100],"nice":false,"zero":false},"axis":{"values":[0,100],"title":"%","titleAngle":270,"titleX":-1,"titleY":92,"titleBaseline":"bottom","titleAlign":"center"}}},
  "layer":[
   {"data":{"name":"a3"},"mark":{"type":"area","color":"#ea1c24","opacity":1,"line":{"color":"#f08c8c","strokeWidth":1}}},
   {"data":{"name":"notes"},"transform":[{"filter":"datum.p=='3A'&&datum.k=='info'"}],"mark":{"type":"text","style":"info"},"encoding":{"text":{"field":"s"}}},
   {"data":{"name":"notes"},"transform":[{"filter":"datum.p=='3A'&&datum.k=='lab'"}],"mark":{"type":"text","style":"lab"},"encoding":{"text":{"field":"s"}}},
   {"data":{"name":"notes"},"transform":[{"filter":"datum.p=='3A'&&datum.k=='xevo'"}],"mark":{"type":"text","style":"xevo"},"encoding":{"text":{"field":"s"}}},
   {"data":{"name":"notes"},"transform":[{"filter":"datum.p=='3A'&&datum.k=='pk'"}],"mark":{"type":"text","style":"pk"},"encoding":{"text":{"field":"s"}}},
   {"data":{"name":"notes"},"transform":[{"filter":"datum.p=='3A'&&datum.k=='sm'"}],"mark":{"type":"text","style":"sm"},"encoding":{"text":{"field":"s"}}}
  ]},
 {"width":575,"height":185,
  "encoding":{"x":{"field":"t","type":"quantitative","scale":{"domain":[0,7.05],"nice":false,"zero":false},"title":null,"axis":{"tickCount":141,"labelOverlap":false,"labelFlush":false,"labelExpr":"abs(datum.value-round(datum.value))<0.001&&datum.value>0.5?format(datum.value,'.2f'):''","tickSize":{"condition":{"test":"abs(datum.value-round(datum.value))<0.001","value":6},"value":3}}},
   "y":{"field":"v","type":"quantitative","scale":{"domain":[0,100],"nice":false,"zero":false},"axis":{"values":[0,100],"title":"%","titleAngle":270,"titleX":-1,"titleY":92,"titleBaseline":"bottom","titleAlign":"center"}}},
  "layer":[
   {"data":{"name":"a6"},"mark":{"type":"area","color":"#ea1c24","opacity":1,"line":{"color":"#7fc27f","strokeWidth":1}}},
   {"data":{"name":"notes"},"transform":[{"filter":"datum.p=='6A'&&datum.k=='info'"}],"mark":{"type":"text","style":"info"},"encoding":{"text":{"field":"s"}}},
   {"data":{"name":"notes"},"transform":[{"filter":"datum.p=='6A'&&datum.k=='lab'"}],"mark":{"type":"text","style":"lab"},"encoding":{"text":{"field":"s"}}},
   {"data":{"name":"notes"},"transform":[{"filter":"datum.p=='6A'&&datum.k=='xevo'"}],"mark":{"type":"text","style":"xevo"},"encoding":{"text":{"field":"s"}}},
   {"data":{"name":"notes"},"transform":[{"filter":"datum.p=='6A'&&datum.k=='pk'"}],"mark":{"type":"text","style":"pk"},"encoding":{"text":{"field":"s"}}},
   {"data":{"name":"notes"},"transform":[{"filter":"datum.p=='6A'&&datum.k=='sm'"}],"mark":{"type":"text","style":"sm"},"encoding":{"text":{"field":"s"}}}
  ]},
 {"width":575,"height":235,
  "encoding":{"x":{"field":"t","type":"quantitative","scale":{"domain":[0,7.05],"nice":false,"zero":false},"title":null,"axis":{"offset":-52,"tickCount":141,"labelOverlap":false,"labelFlush":false,"labelExpr":"abs(datum.value-round(datum.value))<0.001&&datum.value>0.5?format(datum.value,'.2f'):''","tickSize":{"condition":{"test":"abs(datum.value-round(datum.value))<0.001","value":6},"value":3}}},
   "y":{"field":"v","type":"quantitative","scale":{"domain":[-28.42,100],"nice":false,"zero":false},"axis":{"values":[0,100],"domain":false,"title":"%","titleAngle":270,"titleX":-1,"titleY":91,"titleBaseline":"bottom","titleAlign":"center"}}},
  "layer":[
   {"data":{"name":"yax"},"mark":{"type":"rule","color":"#222"},"encoding":{"y2":{"field":"v2"}}},
   {"data":{"name":"b3"},"mark":{"type":"line","color":"#3a3a3a","strokeWidth":1}},
   {"data":{"name":"notes"},"transform":[{"filter":"datum.p=='3B'&&datum.k=='info'"}],"mark":{"type":"text","style":"info"},"encoding":{"text":{"field":"s"}}},
   {"data":{"name":"notes"},"transform":[{"filter":"datum.p=='3B'&&datum.k=='lab'"}],"mark":{"type":"text","style":"lab"},"encoding":{"text":{"field":"s"}}},
   {"data":{"name":"notes"},"transform":[{"filter":"datum.p=='3B'&&datum.k=='tm'"}],"mark":{"type":"text","style":"tm"},"encoding":{"text":{"field":"s"}}},
   {"data":{"name":"notes"},"transform":[{"filter":"datum.p=='3B'&&datum.k=='sm'"}],"mark":{"type":"text","style":"sm"},"encoding":{"text":{"field":"s"}}}
  ]},
 {"width":575,"height":235,
  "encoding":{"x":{"field":"t","type":"quantitative","scale":{"domain":[0,7.05],"nice":false,"zero":false},"title":null,"axis":{"offset":-52,"tickCount":141,"labelOverlap":false,"labelFlush":false,"labelExpr":"abs(datum.value-round(datum.value))<0.001&&datum.value>0.5?format(datum.value,'.2f'):''","tickSize":{"condition":{"test":"abs(datum.value-round(datum.value))<0.001","value":6},"value":3}}},
   "y":{"field":"v","type":"quantitative","scale":{"domain":[-28.42,100],"nice":false,"zero":false},"axis":{"values":[0,100],"domain":false,"title":"%","titleAngle":270,"titleX":-1,"titleY":91,"titleBaseline":"bottom","titleAlign":"center"}}},
  "layer":[
   {"data":{"name":"yax"},"mark":{"type":"rule","color":"#222"},"encoding":{"y2":{"field":"v2"}}},
   {"data":{"name":"b6"},"mark":{"type":"line","color":"#a23ca2","strokeWidth":1}},
   {"data":{"name":"notes"},"transform":[{"filter":"datum.p=='6B'&&datum.k=='info'"}],"mark":{"type":"text","style":"info"},"encoding":{"text":{"field":"s"}}},
   {"data":{"name":"notes"},"transform":[{"filter":"datum.p=='6B'&&datum.k=='lab'"}],"mark":{"type":"text","style":"lab"},"encoding":{"text":{"field":"s"}}},
   {"data":{"name":"notes"},"transform":[{"filter":"datum.p=='6B'&&datum.k=='tm'"}],"mark":{"type":"text","style":"tm"},"encoding":{"text":{"field":"s"}}},
   {"data":{"name":"notes"},"transform":[{"filter":"datum.p=='6B'&&datum.k=='sm'"}],"mark":{"type":"text","style":"sm"},"encoding":{"text":{"field":"s"}}}
  ]}
]
}
